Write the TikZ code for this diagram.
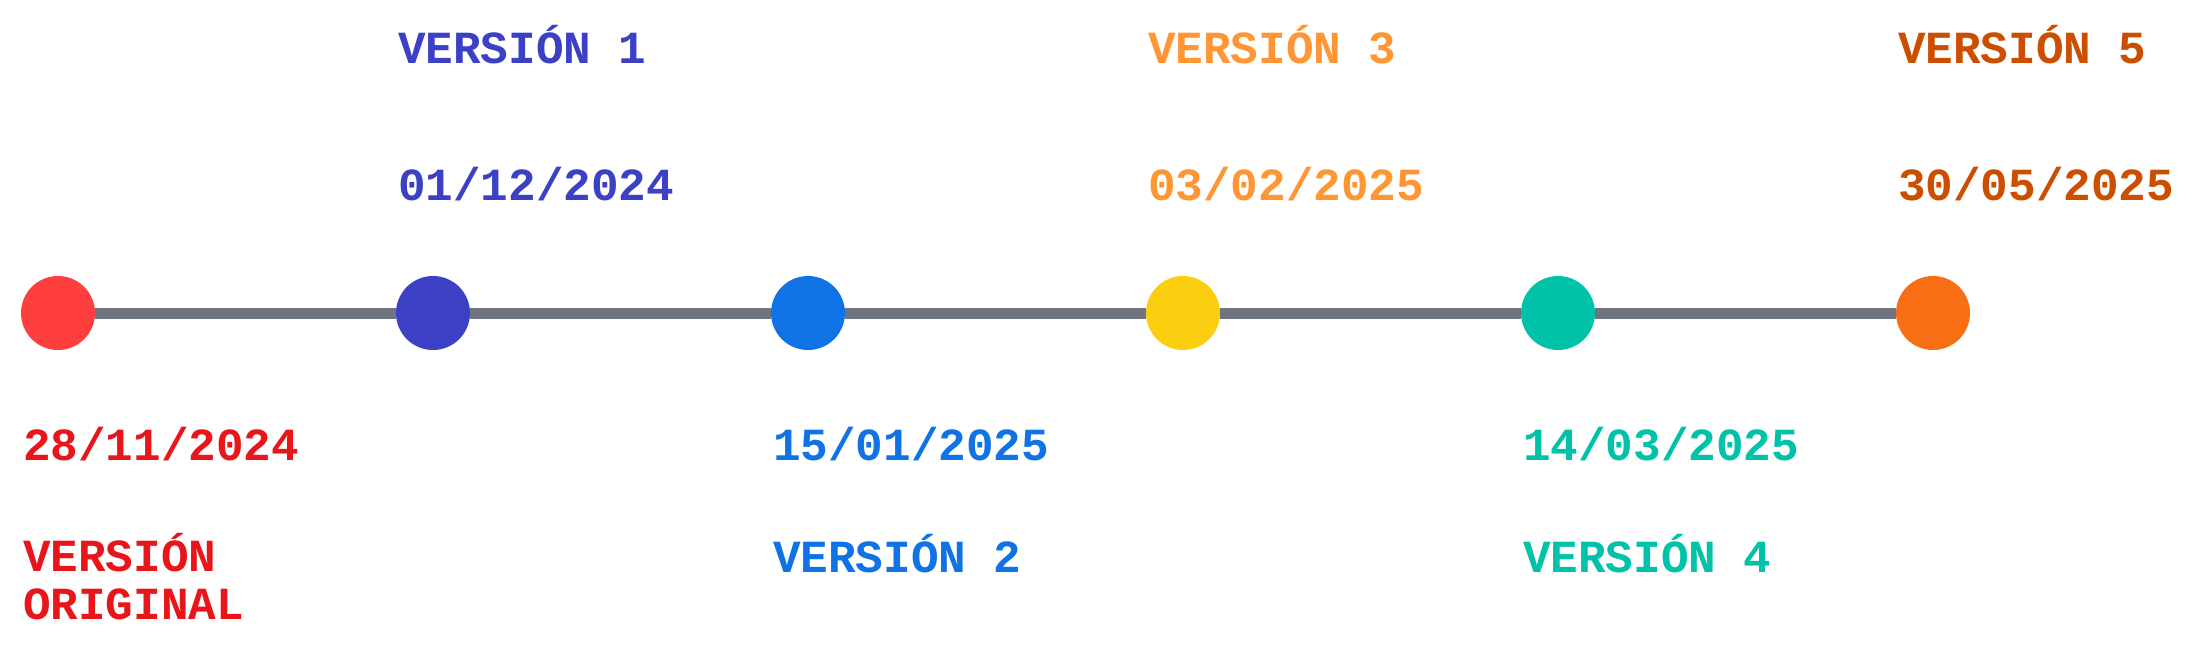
\documentclass[tikz,border=0pt]{standalone}
\usepackage{fontspec}
\setmonofont{Liberation Mono}
\definecolor{redA}{HTML}{FF3E3E}
\definecolor{redB}{HTML}{E8161A}
\definecolor{blueA}{HTML}{3B40C4}
\definecolor{blueB}{HTML}{0F72E5}
\definecolor{yellowA}{HTML}{FBCF0F}
\definecolor{orangeB}{HTML}{FF9633}
\definecolor{tealA}{HTML}{00C2A8}
\definecolor{orangeA}{HTML}{F86E15}
\definecolor{brownA}{HTML}{CC4E00}
\definecolor{lineA}{HTML}{6F7580}

\begin{document}
\begin{tikzpicture}[x=0.5pt,y=-0.5pt,
	dot/.style={circle,fill=#1,minimum size=37pt,inner sep=0pt},
	lbl/.style={text=#1,anchor=base west,inner sep=0pt,align=left,font=\ttfamily\bfseries\fontsize{23}{24}\selectfont},
	link/.style={draw=lineA,line width=5.5pt}]
	\useasboundingbox (0,0) rectangle (2198,649);
	\node[dot=redA] (v0) at (58,313) {};
	\node[dot=blueA] (v1) at (433,313) {};
	\node[dot=blueB] (v2) at (808,313) {};
	\node[dot=yellowA] (v3) at (1183,313) {};
	\node[dot=tealA] (v4) at (1558,313) {};
	\node[dot=orangeA] (v5) at (1933,313) {};
	\foreach \a/\b in {v0/v1,v1/v2,v2/v3,v3/v4,v4/v5}
		\draw[link] (\a) -- (\b);
	% labels below
	\node[lbl=redB] (d0) at ([xshift=1pt]v0.west |- 0,460) {28/11/2024};
	\node[lbl=redB] (n0) at ([xshift=1pt]v0.west |- 0,619) {VERSIÓN\\ORIGINAL};
	\node[lbl=blueB] (d2) at ([xshift=1pt]v2.west |- 0,460) {15/01/2025};
	\node[lbl=blueB] (n2) at ([xshift=1pt]v2.west |- 0,572) {VERSIÓN 2};
	\node[lbl=tealA] (d4) at ([xshift=1pt]v4.west |- 0,460) {14/03/2025};
	\node[lbl=tealA] (n4) at ([xshift=1pt]v4.west |- 0,572) {VERSIÓN 4};
	% labels above
	\node[lbl=blueA] (n1) at ([xshift=1pt]v1.west |- 0,63) {VERSIÓN 1};
	\node[lbl=blueA] (d1) at ([xshift=1pt]v1.west |- 0,200) {01/12/2024};
	\node[lbl=orangeB] (n3) at ([xshift=1pt]v3.west |- 0,63) {VERSIÓN 3};
	\node[lbl=orangeB] (d3) at ([xshift=1pt]v3.west |- 0,200) {03/02/2025};
	\node[lbl=brownA] (n5) at ([xshift=1pt]v5.west |- 0,63) {VERSIÓN 5};
	\node[lbl=brownA] (d5) at ([xshift=1pt]v5.west |- 0,200) {30/05/2025};
\end{tikzpicture}
\end{document}
